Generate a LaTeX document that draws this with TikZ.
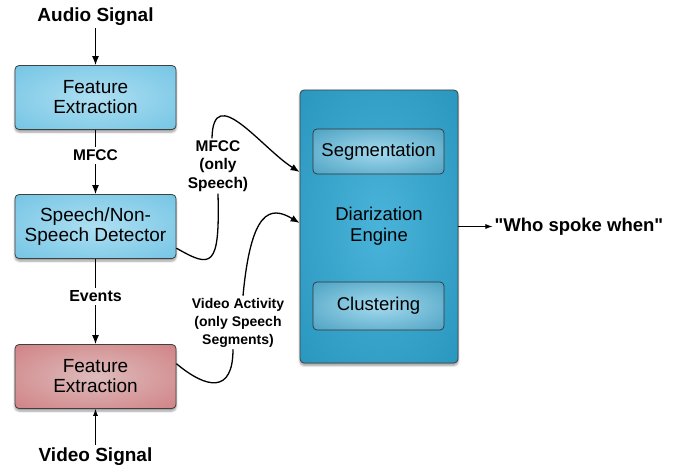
\documentclass[tikz,border=0pt]{standalone}
\usepackage{fontspec}
\setmainfont{Liberation Sans}
\usepackage{xcolor}
\usepackage{tikz}
\usetikzlibrary{positioning, arrows.meta, shadows.blur}

\definecolor{skyIn}{HTML}{ADDFF2}
\definecolor{skyOut}{HTML}{4BB1DA}
\definecolor{roseIn}{HTML}{DDBCBC}
\definecolor{roseOut}{HTML}{C8575D}
\definecolor{tealIn}{HTML}{4AB3D9}
\definecolor{tealOut}{HTML}{0F80A8}
\definecolor{subIn}{HTML}{A4DAEE}
\definecolor{subOut}{HTML}{167FA7}
\pgfdeclareradialshading{skyglow}{\pgfpointorigin}{color(0bp)=(skyIn); color(62bp)=(skyOut); color(71bp)=(skyOut)}
\pgfdeclareradialshading{roseglow}{\pgfpointorigin}{color(0bp)=(roseIn); color(62bp)=(roseOut); color(71bp)=(roseOut)}
\pgfdeclareradialshading{tealglow}{\pgfpointorigin}{color(0bp)=(tealIn); color(64bp)=(tealOut); color(71bp)=(tealOut)}
\pgfdeclareradialshading{subglow}{\pgfpointorigin}{color(0bp)=(subIn); color(58bp)=(subOut); color(71bp)=(subOut)}

\begin{document}
\begin{tikzpicture}[x=1pt, y=1pt,
    box/.style={draw=black!75, line width=0.8pt, rectangle, rounded corners=4pt, align=center, minimum width=161pt, minimum height=64pt, font=\fontsize{19}{20}\selectfont, blur shadow={shadow xshift=0pt, shadow yshift=-2.5pt, shadow blur steps=6}},
    bigbox/.style={box, shading=tealglow, minimum width=158pt, minimum height=273pt, font=\fontsize{18.5}{21}\selectfont},
    subbox/.style={draw=black!80, line width=0.7pt, rectangle, rounded corners=4pt, shading=subglow, minimum width=131pt, font=\fontsize{18.5}{21}\selectfont},
    signal/.style={font=\bfseries\fontsize{19}{21}\selectfont, inner sep=2pt},
    tag/.style={font=\bfseries\fontsize{15.5}{18.5}\selectfont, align=center, inner sep=3pt},
    wire/.style={line width=1.3pt},
    arrow/.style={-{Latex[length=9pt,width=7pt]}, line width=1.3pt},
    thinarrow/.style={-{Latex[length=7pt,width=5pt]}, line width=0.7pt}
]
    \useasboundingbox (0,0) rectangle (681,-468);

    \node (audio) [signal] at (95.5,-17) {Audio Signal};
    \node (featA) [box, shading=skyglow] at (95.5,-97.5) {Feature\\Extraction};
    \node (mfcc) [tag, below of=featA, node distance=58pt] {MFCC};
    \node (detect) [box, shading=skyglow, below of=featA, node distance=129pt] {Speech/Non-\\Speech Detector};
    \node (events) [tag, font=\bfseries\fontsize{16}{19}\selectfont, below of=detect, node distance=70pt] {Events};
    \node (featV) [box, shading=roseglow, below of=detect, node distance=150pt] {Feature\\Extraction};
    \node (video) [signal, below of=featV, node distance=80pt] {Video Signal};

    \node (engine) [bigbox] at (379,-226.5) {Diarization\\Engine};
    \node (segm) [subbox, minimum height=45pt] at (378.5,-151.5) {Segmentation};
    \node (clust) [subbox, minimum height=48pt] at (378.5,-306) {Clustering};
    \node (who) [signal, font=\bfseries\fontsize{18.5}{21}\selectfont, right=34pt of engine] {\textquotedbl Who spoke when\textquotedbl};

    \node (mfccSp) [tag, inner sep=2pt] at (218,-166) {MFCC\\(only\\Speech)};
    \node (vidAct) [tag, font=\bfseries\fontsize{14}{18}\selectfont, inner sep=2pt] at (238,-322.5) {Video Activity\\(only Speech\\Segments)};

    \draw [arrow] (audio) -- (featA);
    \draw [wire] (featA) -- (mfcc);
    \draw [arrow] (mfcc) -- (detect);
    \draw [wire] (detect) -- (events);
    \draw [arrow] (events) -- (featV);
    \draw [thinarrow] (video) -- (featV);
    \draw [thinarrow] (engine) -- (who);

    % curved feeds into the engine
    \draw [wire] (detect.-15) .. controls +(35,-20) and +(2,-75) .. (mfccSp.south);
    \draw [arrow] ([xshift=-6pt]mfccSp.north) .. controls +(1,57) and +(-38,24) .. ([yshift=54.5pt]engine.west);
    \draw [wire] (featV.9) .. controls +(30,-25) and +(0,-45) .. ([xshift=-5pt]vidAct.south);
    \draw [arrow] ([xshift=5pt]vidAct.north) .. controls +(8,85) and +(-30,18) .. ([yshift=3.5pt]engine.west);
\end{tikzpicture}
\end{document}
